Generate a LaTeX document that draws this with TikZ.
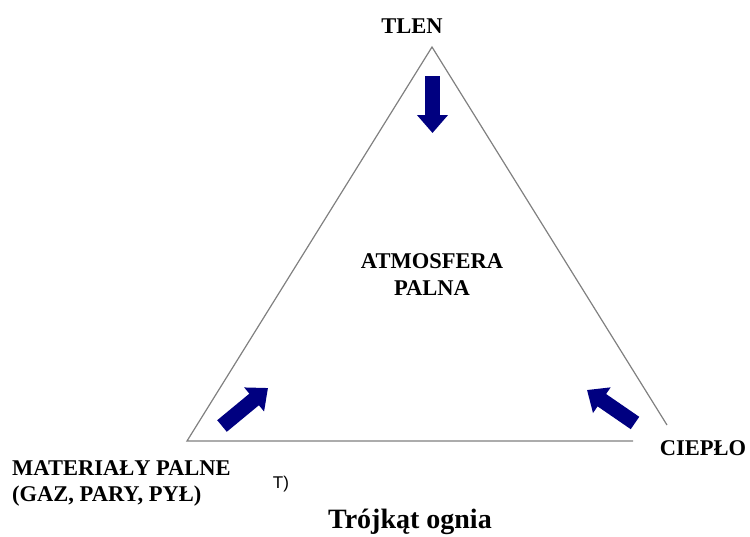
\documentclass[tikz,border=0pt]{standalone}
\usepackage{fontspec}
\setmainfont{Liberation Serif}
\setsansfont{Liberation Sans}
\usetikzlibrary{arrows.meta}
\definecolor{granat}{RGB}{0,0,128}
\begin{document}
\begin{tikzpicture}[x=1pt,y=-1pt,
	napis/.style={font=\bfseries\fontsize{22.5}{26}\selectfont,inner sep=0pt,anchor=base},
	strzalka/.style={granat,line width=15pt,-{Triangle[width=30pt,length=18pt]}}]
	\useasboundingbox (0,0) rectangle (750,536);
	\coordinate (G) at (432,47);
	\coordinate (L) at (187,441);
	\coordinate (P) at (633,441);
	\coordinate (R) at (667,425);
	\draw[gray,line width=1.2] (R) -- (G) -- (L) -- (P);
	\draw[strzalka] (432.5,76) -- (432.5,133);
	\draw[strzalka] (222,426) -- (268,388);
	\draw[strzalka] (635,423) -- (587,390);
	\node[napis] (tlen) at (412,33) {TLEN};
	\node[napis] (atm) at (432,268) {ATMOSFERA};
	\node[napis] (palna) at (432,295) {PALNA};
	\node[napis] (cieplo) at (703,455) {CIEPŁO};
	\node[napis,anchor=base west] (mat) at (12,475) {MATERIAŁY PALNE};
	\node[napis,anchor=base west] (gaz) at (12,501) {(GAZ, PARY, PYŁ)};
	\node[inner sep=0pt,anchor=base,font=\sffamily\fontsize{17}{19}\selectfont] (t) at (281,488) {T)};
	\node[inner sep=0pt,anchor=base,font=\bfseries\fontsize{28}{32}\selectfont] (tytul) at (410,528) {Trójkąt ognia};
\end{tikzpicture}
\end{document}
